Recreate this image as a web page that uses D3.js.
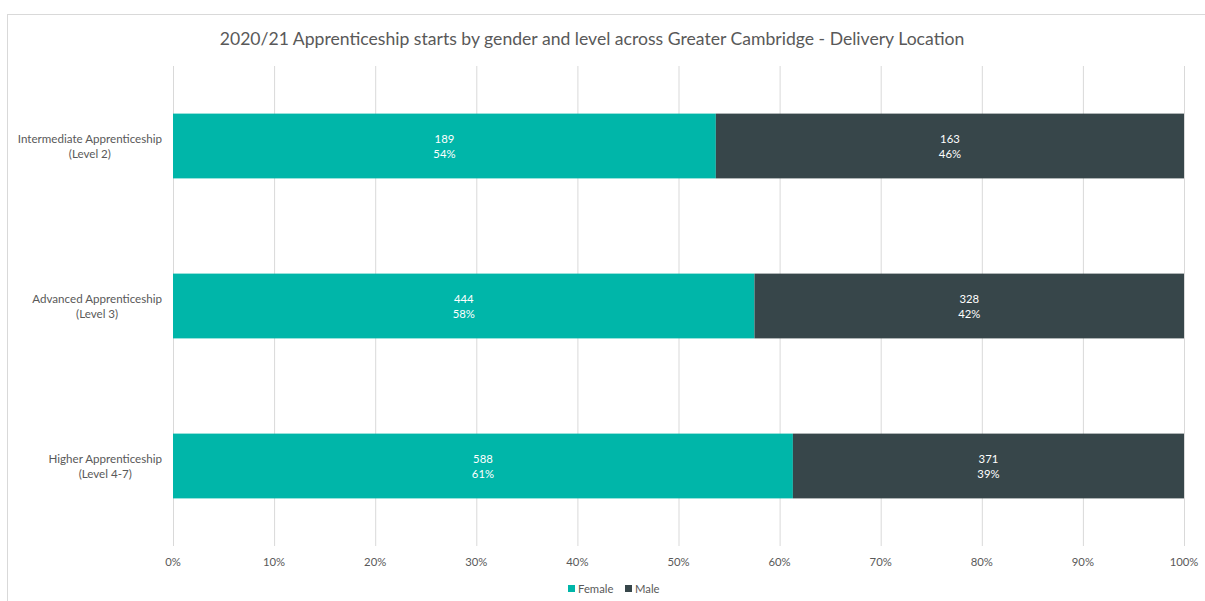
<!DOCTYPE html>
<html>
<head>
<meta charset="UTF-8">
<style>
  body { margin: 0; background: #fff; }
  svg { display: block; font-family: Lato, "Liberation Sans", sans-serif; }
</style>
</head>
<body>
<svg id="chart"></svg>
<script src="https://d3js.org/d3.v7.min.js"></script>
<script>
const levels = ["Intermediate Apprenticeship|(Level 2)", "Advanced Apprenticeship|(Level 3)", "Higher Apprenticeship|(Level 4-7)"];
const female = [189, 444, 588];
const male = [163, 328, 371];
const genders = ["Female", "Male"];
const ticks = [0, 0.1, 0.2, 0.3, 0.4, 0.5, 0.6, 0.7, 0.8, 0.9, 1];

const width = 1205, height = 601;
const svg = d3.select("#chart").attr("width", width).attr("height", height);

// chart border (runs off the right and bottom edges)
svg.append("rect")
  .attr("x", 7.5).attr("y", 14.5)
  .attr("width", 1210).attr("height", 600)
  .attr("fill", "#fff").attr("stroke", "#d9d9d9");

svg.append("text")
  .attr("x", 592).attr("y", 45)
  .attr("text-anchor", "middle")
  .attr("font-size", 17.6)
  .attr("fill", "#595959")
  .text("2020/21 Apprenticeship starts by gender and level across Greater Cambridge - Delivery Location");

const x = d3.scaleLinear().domain([0, 1]).range([173, 1184]);
const y = d3.scaleBand().domain(levels).range([66, 546]).paddingInner(0.595).paddingOuter(0.2975);
const color = d3.scaleOrdinal().domain(genders).range(["#00b6a9", "#37464a"]);

// gridlines
svg.append("g").selectAll("line").data(ticks).join("line")
  .attr("x1", d => x(d) + 0.5).attr("x2", d => x(d) + 0.5)
  .attr("y1", 66).attr("y2", 546)
  .attr("stroke", "#d9d9d9").attr("stroke-width", 1);

// tick labels
svg.append("g").selectAll("text").data(ticks).join("text")
  .attr("x", d => x(d)).attr("y", 566)
  .attr("text-anchor", "middle")
  .attr("font-size", 11.3).attr("fill", "#595959")
  .text(d3.format(".0%"));

const rows = levels.map((l, i) => {
  const tot = female[i] + male[i];
  return [
    { level: l, g: "Female", v: female[i], x0: 0, x1: female[i] / tot },
    { level: l, g: "Male", v: male[i], x0: female[i] / tot, x1: 1 }
  ];
}).flat();

svg.append("g").selectAll("rect").data(rows).join("rect")
  .attr("x", d => x(d.x0)).attr("width", d => x(d.x1) - x(d.x0))
  .attr("y", d => y(d.level)).attr("height", y.bandwidth())
  .attr("fill", d => color(d.g));

const lab = svg.append("g").selectAll("text").data(rows).join("text")
  .attr("text-anchor", "middle")
  .attr("font-size", 11.3).attr("fill", "#fff");
lab.append("tspan")
  .attr("x", d => (x(d.x0) + x(d.x1)) / 2)
  .attr("y", d => y(d.level) + y.bandwidth() / 2 - 3)
  .text(d => d.v);
lab.append("tspan")
  .attr("x", d => (x(d.x0) + x(d.x1)) / 2)
  .attr("y", d => y(d.level) + y.bandwidth() / 2 + 12)
  .text(d => d3.format(".0%")(d.x1 - d.x0));

// category labels: block right aligned, lines centred in block
levels.forEach(l => {
  const [a, b] = l.split("|");
  const cy = y(l) + y.bandwidth() / 2;
  const t1 = svg.append("text")
    .attr("x", 162).attr("y", cy - 3)
    .attr("text-anchor", "end")
    .attr("font-size", 11.6).attr("fill", "#595959")
    .text(a);
  const w = t1.node().getComputedTextLength();
  svg.append("text")
    .attr("x", 162 - w / 2).attr("y", cy + 12)
    .attr("text-anchor", "middle")
    .attr("font-size", 11.6).attr("fill", "#595959")
    .text(b);
});

// legend
const lg = svg.append("g").attr("transform", "translate(568,589)");
const items = lg.selectAll("g").data(genders).join("g")
  .attr("transform", (d, i) => `translate(${i * 57},0)`);
items.append("rect").attr("x", 0).attr("y", -4).attr("width", 7).attr("height", 7)
  .attr("fill", d => color(d));
items.append("text").attr("x", 10).attr("y", 4)
  .attr("font-size", 11.3).attr("fill", "#595959")
  .text(d => d);
</script>
</body>
</html>
